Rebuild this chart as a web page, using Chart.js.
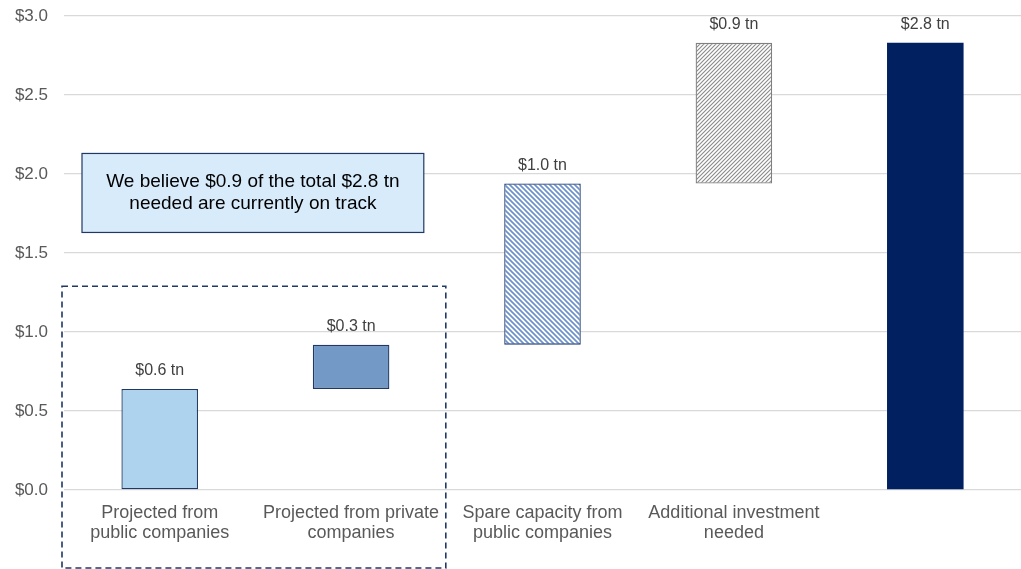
<!DOCTYPE html>
<html>
<head>
<meta charset="utf-8">
<script src="https://cdn.jsdelivr.net/npm/chart.js@4/dist/chart.umd.min.js"></script>
<style>
  html, body { margin: 0; padding: 0; background: #fff; }
  #chart-gap { display: block; }
</style>
</head>
<body>
<canvas id="chart-gap" width="1021" height="569"></canvas>
<script>
// Investment gap waterfall (tn USD)
var categories = [
  ["Projected from", "public companies"],
  ["Projected from private", "companies"],
  ["Spare capacity from", "public companies"],
  ["Additional investment", "needed"],
  ""
];
var barStarts = [0, 0.64, 0.92, 1.94, 0];
var barEnds = [0.64, 0.92, 1.94, 2.83, 2.83];
var yTicks = [0, 0.5, 1.0, 1.5, 2.0, 2.5, 3.0];
var noteLines = ["We believe $0.9 of the total $2.8 tn", "needed are currently on track"];

// diagonal hatch fills
function makeHatch(color, size, width, slope) {
  var c = document.createElement("canvas");
  c.width = size;
  c.height = size;
  var g = c.getContext("2d");
  g.fillStyle = "#ffffff";
  g.fillRect(0, 0, size, size);
  g.strokeStyle = color;
  g.lineWidth = width;
  g.beginPath();
  if (slope == "down") {
    g.moveTo(-1, -1); g.lineTo(size + 1, size + 1);
    g.moveTo(-size - 1, -1); g.lineTo(1, size + 1);
    g.moveTo(size - 1, -1); g.lineTo(2 * size + 1, size + 1);
  } else {
    g.moveTo(-1, size + 1); g.lineTo(size + 1, -1);
    g.moveTo(-size - 1, size + 1); g.lineTo(1, -1);
    g.moveTo(size - 1, size + 1); g.lineTo(2 * size + 1, -1);
  }
  g.stroke();
  return g.createPattern(c, "repeat");
}

var ctx = document.getElementById("chart-gap").getContext("2d");
var blueHatch = makeHatch("#6d91cc", 5, 1.7, "down");
var greyHatch = makeHatch("#8a8a8a", 4, 1.1, "up");

var fills = ["#aed3ef", "#7399c6", blueHatch, greyHatch, "#002060"];
var borders = ["#1f3864", "#1f3864", "#1f3a70", "#7f7f7f", "#002060"];

function fmt(v) {
  return "$" + v.toFixed(1);
}

// value labels above each bar + note box + dashed outline
var overlay = {
  id: "overlay",
  afterDatasetsDraw: function (chart) {
    var c = chart.ctx;
    var meta = chart.getDatasetMeta(0);
    c.save();
    c.font = "16px 'Liberation Sans', Arial, sans-serif";
    c.fillStyle = "#404040";
    c.textAlign = "center";
    c.textBaseline = "bottom";
    meta.data.forEach(function (bar, i) {
      var v = barEnds[i] - barStarts[i];
      c.fillText(fmt(v) + " tn", bar.x, bar.y - 10);
    });

    var xs = chart.scales.x, ys = chart.scales.y;
    var step = xs.getPixelForTick(1) - xs.getPixelForTick(0);
    var leftEdge = xs.getPixelForTick(0) - step / 2;
    var rightEdge = xs.getPixelForTick(1) + step / 2;

    // dashed group outline
    c.strokeStyle = "#1f3864";
    c.lineWidth = 1.6;
    c.setLineDash([6, 4]);
    c.strokeRect(leftEdge - 2, ys.getPixelForValue(1.29), rightEdge - leftEdge + 1, chart.height - 1 - ys.getPixelForValue(1.29));
    c.setLineDash([]);

    // note box
    var bx = leftEdge + 18, bw = rightEdge - 23 - bx;
    var by = ys.getPixelForValue(2.13), bh = ys.getPixelForValue(1.63) - by;
    c.fillStyle = "#d7ebfb";
    c.fillRect(bx, by, bw, bh);
    c.strokeStyle = "#1f3864";
    c.lineWidth = 1.2;
    c.strokeRect(bx, by, bw, bh);
    c.fillStyle = "#000000";
    c.font = "19px 'Liberation Sans', Arial, sans-serif";
    c.textBaseline = "middle";
    c.fillText(noteLines[0], bx + bw / 2, by + bh / 2 - 11);
    c.fillText(noteLines[1], bx + bw / 2, by + bh / 2 + 11);
    c.restore();
  }
};

var chartGap = new Chart(ctx, {
  type: "bar",
  data: {
    labels: categories,
    datasets: [
      {
        data: barStarts.map(function (s, i) { return [s, barEnds[i]]; }),
        backgroundColor: fills,
        borderColor: borders,
        borderWidth: [1.3, 1.3, 1.3, 1.3, 0],
        borderSkipped: false,
        barPercentage: 0.4,
        categoryPercentage: 1.0
      }
    ]
  },
  options: {
    responsive: false,
    animation: false,
    layout: {
      padding: { top: 16, right: 0, bottom: 0, left: 0 }
    },
    plugins: {
      legend: { display: false },
      tooltip: { enabled: false }
    },
    scales: {
      x: {
        grid: { display: false },
        border: { display: false },
        ticks: {
          color: "#595959",
          padding: 5,
          maxRotation: 0,
          autoSkip: false,
          font: { family: "'Liberation Sans', Arial, sans-serif", size: 18, lineHeight: 1.13 }
        },
        afterFit: function (s) { s.height = 79; }
      },
      y: {
        min: 0,
        max: 3.0,
        afterBuildTicks: function (s) {
          s.ticks = yTicks.map(function (v) { return { value: v }; });
        },
        grid: { color: "#d9d9d9", lineWidth: 1.3, drawTicks: false },
        border: { display: false },
        ticks: {
          color: "#595959",
          padding: 16,
          font: { family: "'Liberation Sans', Arial, sans-serif", size: 17 },
          callback: function (v) { return fmt(v); }
        },
        afterFit: function (s) {
          s.width = 64;
          s.paddingTop = 0;
          s.paddingBottom = 0;
        }
      }
    }
  },
  plugins: [overlay]
});
</script>
</body>
</html>
